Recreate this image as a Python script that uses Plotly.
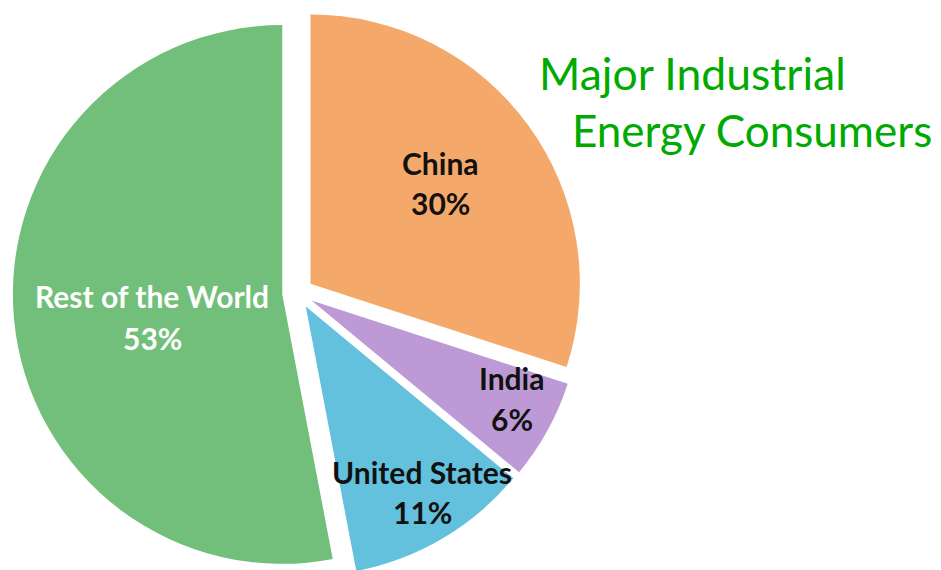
import plotly.graph_objects as go

regions = ["China", "India", "United States", "Rest of the World"]
shares = [30, 6, 11, 53]
colors = ["#F4A96A", "#BD9AD6", "#63C1DE", "#71BF7A"]
text_colors = ["#111111", "#111111", "#111111", "#FFFFFF"]
pulls = [0.058, 0.058, 0.058, 0.058]

# label centres (pixels from top-left) for name line and percent line
label_x = [432, 504, 414, 144]
name_y = [165, 380, 474, 298]
pct_y = [205, 421, 514, 340]

W, H = 941, 570

fig = go.Figure(go.Pie(
    labels=regions,
    values=shares,
    sort=False,
    direction="clockwise",
    rotation=0,
    pull=pulls,
    marker=dict(colors=colors, line=dict(width=0)),
    textinfo="none",
    hoverinfo="skip",
    showlegend=False,
    domain=dict(x=[0.0, 0.616], y=[0, 1]),
))

LF = 30
off = 0.33 * LF
for name, val, x, yn, yp, c in zip(regions, shares, label_x, name_y, pct_y, text_colors):
    fig.add_annotation(text=f"<b>{name}</b>", x=x / W, y=1 - (yn - off) / H,
                       xref="paper", yref="paper", xanchor="center", yanchor="middle",
                       showarrow=False, font=dict(family="Lato", size=LF, color=c))
    fig.add_annotation(text=f"<b>{val}%</b>", x=x / W, y=1 - (yp - off) / H,
                       xref="paper", yref="paper", xanchor="center", yanchor="middle",
                       showarrow=False, font=dict(family="Lato", size=LF, color=c))

fig.add_annotation(text="Major Industrial", x=529 / W, y=1 - 64 / H,
                   xref="paper", yref="paper", xanchor="left", yanchor="middle",
                   showarrow=False, font=dict(family="Lato", size=44.5, color="#00AA00"))
fig.add_annotation(text="Energy Consumers", x=562 / W, y=1 - 122 / H,
                   xref="paper", yref="paper", xanchor="left", yanchor="middle",
                   showarrow=False, font=dict(family="Lato", size=44, color="#00AA00"))

fig.update_layout(
    width=W, height=H,
    margin=dict(l=0, r=0, t=0, b=0),
    paper_bgcolor="white",
    plot_bgcolor="white",
)

fig.write_html("out.html")
